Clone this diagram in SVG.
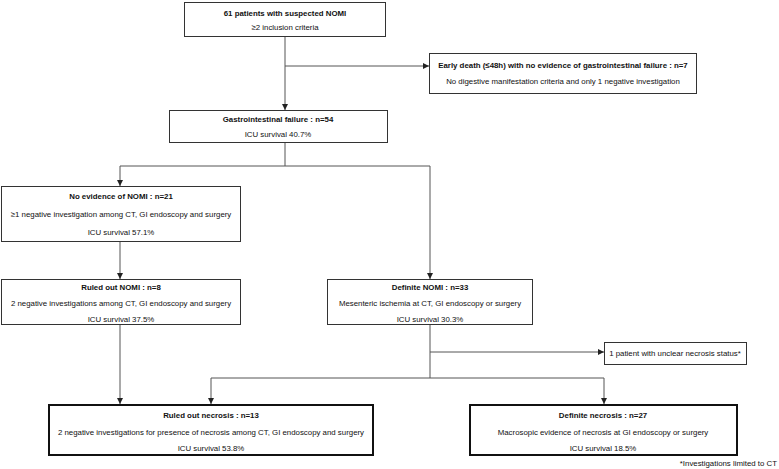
<svg xmlns="http://www.w3.org/2000/svg" width="779" height="469" viewBox="0 0 779 469">
<defs>
<marker id="ah" viewBox="0 0 6 6" refX="6" refY="3" markerWidth="6" markerHeight="6" orient="auto" markerUnits="userSpaceOnUse">
<path d="M0,0 L6,3 L0,6 z" fill="#222"/>
</marker>
<style>
.box{fill:#fff;stroke:#333;stroke-width:1}
.tbox{fill:#fff;stroke:#111;stroke-width:2}
text{font-family:"Liberation Sans",Arial,sans-serif;font-size:7.85px;fill:#111;text-anchor:middle}
.b{font-weight:bold}
.ln{fill:none;stroke:#555;stroke-width:1}
</style>
</defs>
<rect width="779" height="469" fill="#fff"/>
<g id="connectors">
<path class="ln" d="M285,36 V110" marker-end="url(#ah)"/>
<path class="ln" d="M285,66 H429" marker-end="url(#ah)"/>
<path class="ln" d="M285,142 V166 M120,166 H430"/>
<path class="ln" d="M120,166 V186" marker-end="url(#ah)"/>
<path class="ln" d="M430,166 V279" marker-end="url(#ah)"/>
<path class="ln" d="M120,241 V279" marker-end="url(#ah)"/>
<path class="ln" d="M120,325 V404" marker-end="url(#ah)"/>
<path class="ln" d="M430,325 V378 M211,378 H604"/>
<path class="ln" d="M430,352 H604" marker-end="url(#ah)"/>
<path class="ln" d="M211,378 V404" marker-end="url(#ah)"/>
<path class="ln" d="M604,378 V404" marker-end="url(#ah)"/>
</g>
<g id="n1">
<rect class="box" x="184.5" y="2.5" width="201" height="34"/>
<text class="b" x="285" y="16">61 patients with suspected NOMI</text>
<text x="285" y="30">≥2 inclusion criteria</text>
</g>
<g id="n2">
<rect class="box" x="429.5" y="53.5" width="267" height="40"/>
<text class="b" x="563" y="68">Early death (≤48h) with no evidence of gastrointestinal failure : n=7</text>
<text x="563" y="84">No digestive manifestation criteria and only 1 negative investigation</text>
</g>
<g id="n3">
<rect class="box" x="169.5" y="110.5" width="218" height="32"/>
<text class="b" x="278" y="122">Gastrointestinal failure : n=54</text>
<text x="278" y="137">ICU survival 40.7%</text>
</g>
<g id="n4">
<rect class="box" x="1.5" y="186.5" width="239" height="55"/>
<text class="b" x="121" y="199">No evidence of NOMI : n=21</text>
<text x="121" y="217">≥1 negative investigation among CT, GI endoscopy and surgery</text>
<text x="121" y="235">ICU survival 57.1%</text>
</g>
<g id="n5">
<rect class="box" x="1.5" y="279.5" width="239" height="45"/>
<text class="b" x="121" y="290">Ruled out NOMI : n=8</text>
<text x="121" y="306">2 negative investigations among CT, GI endoscopy and surgery</text>
<text x="121" y="322">ICU survival 37.5%</text>
</g>
<g id="n6">
<rect class="box" x="327.5" y="279.5" width="205" height="45"/>
<text class="b" x="430" y="290">Definite NOMI : n=33</text>
<text x="430" y="306">Mesenteric ischemia at CT, GI endoscopy or surgery</text>
<text x="430" y="322">ICU survival 30.3%</text>
</g>
<g id="n7">
<rect class="box" x="604.5" y="342.5" width="142" height="22"/>
<text x="675" y="356">1 patient with unclear necrosis status*</text>
</g>
<g id="n8">
<rect class="tbox" x="49" y="405" width="324" height="50"/>
<text class="b" x="211" y="418">Ruled out necrosis : n=13</text>
<text x="211" y="435">2 negative investigations for presence of necrosis among CT, GI endoscopy and surgery</text>
<text x="211" y="451">ICU survival 53.8%</text>
</g>
<g id="n9">
<rect class="tbox" x="470" y="405" width="267" height="50"/>
<text class="b" x="603" y="418">Definite necrosis : n=27</text>
<text x="603" y="435">Macrosopic evidence of necrosis at GI endoscopy or surgery</text>
<text x="603" y="451">ICU survival 18.5%</text>
</g>
<text x="777" y="466" style="text-anchor:end">*Investigations limited to CT</text>
</svg>
